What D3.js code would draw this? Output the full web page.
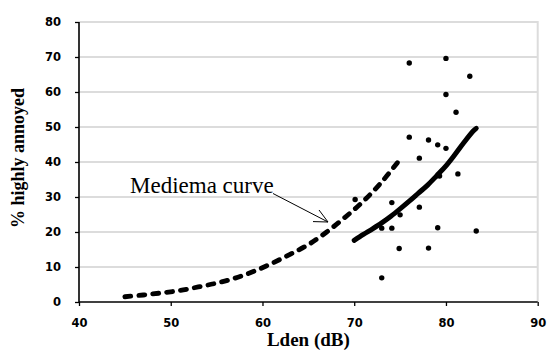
<!DOCTYPE html>
<html><head><meta charset="utf-8">
<script src="https://cdn.jsdelivr.net/npm/d3@7"></script>
<style>body{margin:0;background:#fff}</style>
</head><body>
<script>
// Data
const xTicks = [40, 50, 60, 70, 80, 90];
const yTicks = [0, 10, 20, 30, 40, 50, 60, 70, 80];
// Miedema curve (dashed)
const miedemaX = [45, 47, 49, 51, 53, 55, 57, 59, 61, 63, 65, 67, 69, 71, 73, 75];
const miedemaY = [1.5, 2.0, 2.6, 3.3, 4.3, 5.4, 6.8, 8.7, 11.0, 13.6, 16.4, 20.0, 24.2, 28.8, 34.3, 40.8];
// Fitted curve (solid)
const fitX = [70, 71, 72, 73, 74, 75, 76, 77, 78, 79, 80, 81, 82, 83, 83.3];
const fitY = [17.6, 19.3, 20.9, 22.6, 24.5, 26.6, 28.8, 31.1, 33.4, 36.1, 38.9, 42.2, 45.7, 48.9, 49.6];
// Observed points
const obsX = [76, 80, 82.6, 80, 81.1, 76, 78.1, 79.1, 80, 77.1, 81.3, 79.3, 70.1, 74.1, 77.1, 75, 73, 74.1, 79.1, 83.3, 74.9, 78.1, 73];
const obsY = [68.3, 69.6, 64.5, 59.3, 54.2, 47.1, 46.3, 44.9, 43.9, 41.1, 36.6, 36, 29.3, 28.4, 27.1, 24.9, 21.1, 21.1, 21.2, 20.3, 15.3, 15.4, 6.9];
const annotation = "Mediema curve";
const xTitle = "Lden (dB)";
const yTitle = "% highly annoyed";

const W = 547, H = 351;
const svg = d3.select("body").append("svg").attr("width", W).attr("height", H);
const x = d3.scaleLinear().domain([40, 90]).range([79, 537.7]);
const y = d3.scaleLinear().domain([0, 80]).range([302, 22]);

// plot border (light gray) and gridlines
svg.append("g").selectAll("line").data(yTicks.filter(d => d > 0)).join("line")
  .attr("x1", x(40)).attr("x2", x(90))
  .attr("y1", d => y(d)).attr("y2", d => y(d))
  .attr("stroke", "#dcdcdc").attr("stroke-width", 2);
svg.append("line").attr("x1", x(90)).attr("x2", x(90)).attr("y1", y(80) - 1).attr("y2", y(0))
  .attr("stroke", "#dcdcdc").attr("stroke-width", 2);

// axes
const xAxis = d3.axisBottom(x).tickValues(xTicks).tickSize(4).tickPadding(14).tickFormat(d3.format("d"));
const yAxis = d3.axisLeft(y).tickValues(yTicks).tickSize(4).tickPadding(14).tickFormat(d3.format("d"));
const gx = svg.append("g").attr("transform", `translate(0,${y(0)})`).call(xAxis);
const gy = svg.append("g").attr("transform", `translate(${x(40)},0)`).call(yAxis);
[gx, gy].forEach(g => {
  g.select(".domain").attr("stroke", "#000").attr("stroke-width", 1.6);
  g.selectAll(".tick line").attr("stroke", "#000").attr("stroke-width", 1.3);
  g.selectAll(".tick text").attr("fill", "#000")
    .style("font-family", "'DejaVu Sans', Verdana, sans-serif")
    .style("font-weight", "bold").style("font-size", "11.5px");
});
gx.selectAll(".tick text").attr("dy", "0.6em");
gx.select(".domain").attr("d", `M${x(40)},0H${x(90)}`);
gy.select(".domain").attr("d", `M0,${y(80)}V${y(0)}`);

// titles
svg.append("text").attr("x", x(65)).attr("y", 346).attr("text-anchor", "middle")
  .style("font-family", "'Liberation Serif', 'Times New Roman', serif")
  .style("font-weight", "bold").style("font-size", "19px").text(xTitle);
svg.append("text").attr("transform", "translate(24,158) rotate(-90)").attr("text-anchor", "middle")
  .style("font-family", "'Liberation Serif', 'Times New Roman', serif")
  .style("font-weight", "bold").style("font-size", "18px").text(yTitle);

// curves
const line = d3.line().x(d => x(d[0])).y(d => y(d[1])).curve(d3.curveCatmullRom);
svg.append("path").datum(d3.zip(miedemaX, miedemaY)).attr("d", line)
  .attr("fill", "none").attr("stroke", "#000").attr("stroke-width", 4.8)
  .attr("stroke-linecap", "round").attr("stroke-dasharray", "6,8");
svg.append("path").datum(d3.zip(fitX, fitY)).attr("d", line)
  .attr("fill", "none").attr("stroke", "#000").attr("stroke-width", 5)
  .attr("stroke-linecap", "round");

// points
svg.append("g").selectAll("circle").data(d3.zip(obsX, obsY)).join("circle")
  .attr("cx", d => x(d[0])).attr("cy", d => y(d[1])).attr("r", 2.7).attr("fill", "#000");

// annotation
svg.append("text").attr("x", 130).attr("y", 193)
  .style("font-family", "'Liberation Serif', 'Times New Roman', serif")
  .style("font-size", "23px").attr("fill", "#000").text(annotation);
const ax1 = 273, ay1 = 193.5, ax2 = 328, ay2 = 222;
svg.append("line").attr("x1", ax1).attr("y1", ay1).attr("x2", ax2).attr("y2", ay2)
  .attr("stroke", "#000").attr("stroke-width", 1);
const ang = Math.atan2(ay2 - ay1, ax2 - ax1), L = 15, spread = 0.45;
[ang + Math.PI - spread, ang + Math.PI + spread].forEach(a => {
  svg.append("line").attr("x1", ax2).attr("y1", ay2)
    .attr("x2", ax2 + L * Math.cos(a)).attr("y2", ay2 + L * Math.sin(a))
    .attr("stroke", "#000").attr("stroke-width", 1);
});
</script>
</body></html>
